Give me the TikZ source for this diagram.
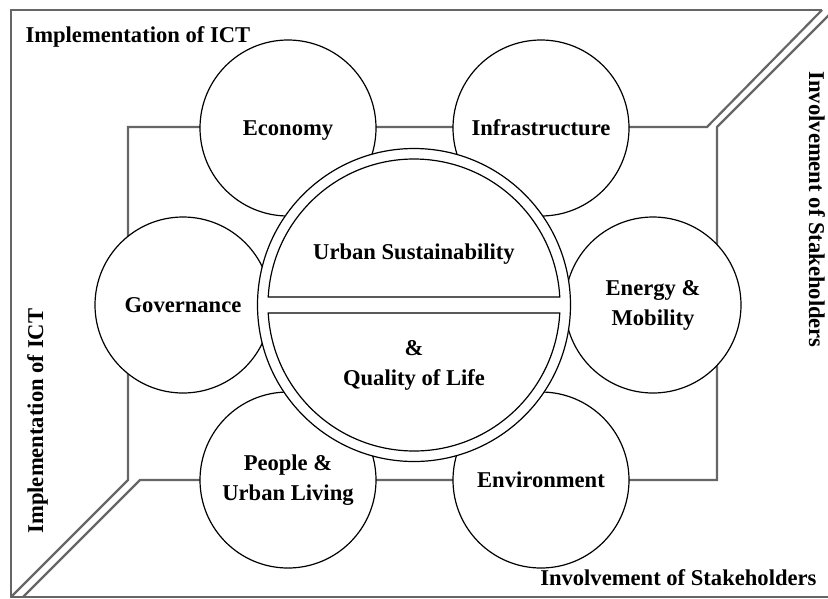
\documentclass[tikz,border=0pt]{standalone}
\usepackage{fontspec}
\setmainfont{Liberation Serif}
\usetikzlibrary{positioning}

\begin{document}
\begin{tikzpicture}[
  x=1pt, y=-1pt,
  every node/.style={font=\fontsize{22.6}{30}\selectfont\bfseries},
  frame/.style={draw=black!60, line width=2.2pt},
  sector/.style={draw, circle, fill=white, line width=1.2pt,
    minimum size=176pt, inner sep=0pt, align=center},
  single/.style={text height=17pt, text depth=2pt},
  half/.style={draw, fill=white, line width=1.2pt}
]
\useasboundingbox (0,0) rectangle (828,598);

% corners of the two zones
\coordinate (tl) at (11,10);
\coordinate (tr) at (822,10);
\coordinate (trb) at (834,10);
\coordinate (bl) at (11,597);
\coordinate (blb) at (23,597);
\coordinate (br) at (830,597);
\coordinate (ka) at (707,127);
\coordinate (kb) at (717,127);
\coordinate (kc) at (717,480);
\coordinate (la) at (128,127);
\coordinate (lb) at (128,480);
\coordinate (lc) at (140,480);

% outer frame
\draw[frame] (tr) -- (tl) -- (bl) -- (br);

% zone borders
\path[frame] (tr) -- (ka) -- (la) -- (lb) -- (bl);
\path[frame] (trb) -- (kb) -- (kc) -- (lc) -- (blb);

% the six fields
\node[sector, single] (eco) at (288,128) {Economy};
\node[sector, single] (infra) at (541,128) {Infrastructure};
\node[sector, single] (gov) at (183,305) {Governance};
\node[sector] (energy) at (653,305) {Energy \&\\Mobility};
\node[sector] (people) at (288,480) {People \&\\Urban Living};
\node[sector, single] (env) at (541,480) {Environment};

% centre ring and its two halves
\node[draw, circle, fill=white, line width=1.2pt, minimum size=313pt] (hub) at (414,305) {};
\draw[half] (hub.center) ++(183.14:146) arc[start angle=183.14, end angle=356.86, radius=146] -- cycle;
\draw[half] (hub.center) ++(3.14:146) arc[start angle=3.14, end angle=176.86, radius=146] -- cycle;
\node (us) at (414,254) {Urban Sustainability};
\node[align=center] (qol) at (414,365) {\&\\Quality of Life};

% zone labels
\node[anchor=base west] (ict) at (22,42) {Implementation of ICT};
\node[anchor=base west, rotate=90] (ictv) at (43,537) {Implementation of ICT};
\node[anchor=base east] (stake) at (820,585) {Involvement of Stakeholders};
\node[anchor=base west, rotate=-90] (stakev) at (809,68) {Involvement of Stakeholders};

\end{tikzpicture}
\end{document}
